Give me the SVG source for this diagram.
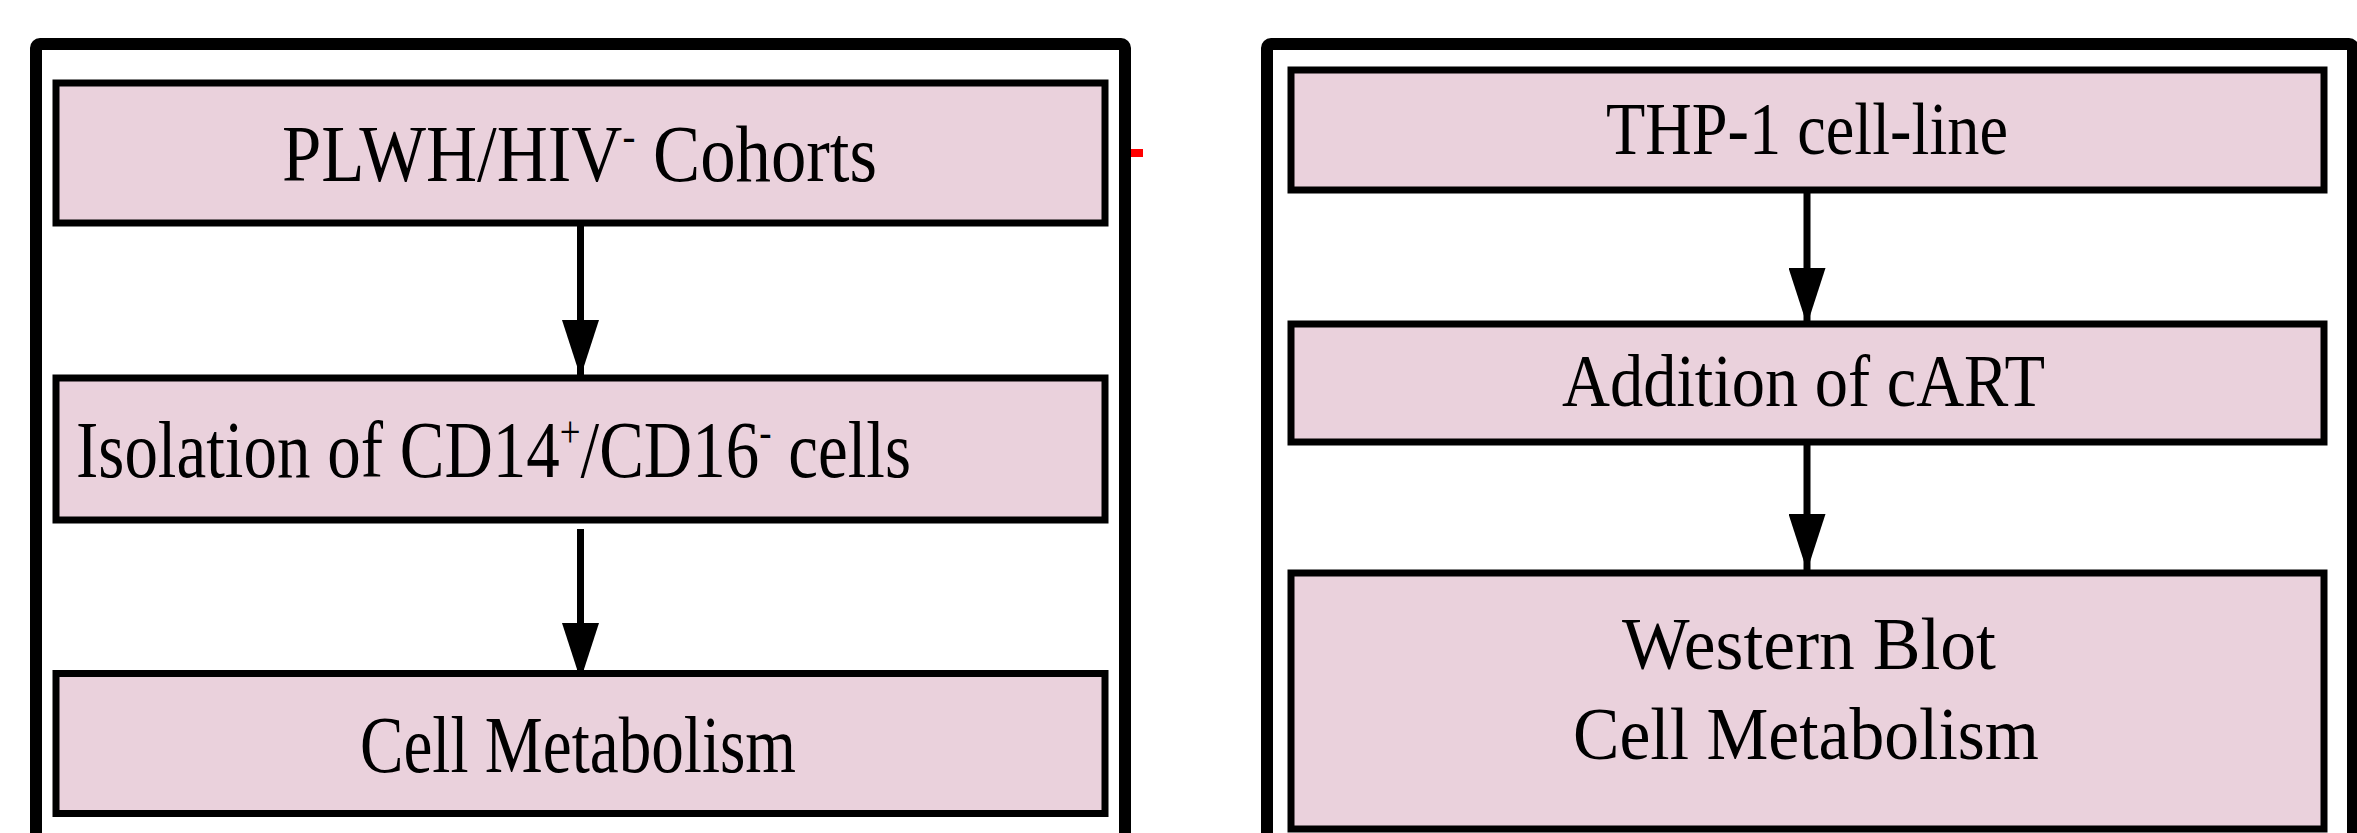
<svg xmlns="http://www.w3.org/2000/svg" width="2357" height="833" viewBox="0 0 2357 833">
<style>
.frame{fill:none;stroke:#000;stroke-width:12}
.box{fill:#EAD1DC;stroke:#000;stroke-width:7}
.lbl{font-family:"Liberation Serif","Times New Roman",serif;fill:#000}
.big{font-size:80px}
.med{font-size:74px}
.conn{stroke:#000;stroke-width:7;fill:none}
</style>
<defs>
<marker id="ah" markerUnits="userSpaceOnUse" viewBox="0 0 57 37" refX="57" refY="18.5" markerWidth="57" markerHeight="37" orient="auto">
<path d="M0,0 L57,18.5 L0,37 Z" fill="#000"/>
</marker>
</defs>
<rect width="2357" height="833" fill="#fff"/>
<g id="frame-left"><rect class="frame" x="36" y="44" width="1089" height="830" rx="4"/></g>
<g id="frame-right"><rect class="frame" x="1267" y="44" width="1086" height="830" rx="4"/></g>
<rect id="red-mark" x="1131" y="149" width="12" height="8" fill="#FF0000"/>
<g id="connectors">
<line class="conn" x1="580.5" y1="226" x2="580.5" y2="377" marker-end="url(#ah)"/>
<line class="conn" x1="580.5" y1="529" x2="580.5" y2="680" marker-end="url(#ah)"/>
<line class="conn" x1="1807" y1="193" x2="1807" y2="325" marker-end="url(#ah)"/>
<line class="conn" x1="1807" y1="445" x2="1807" y2="571" marker-end="url(#ah)"/>
</g>
<g id="n-plwh">
<rect class="box" x="56" y="83" width="1049" height="140"/>
<text class="lbl big" x="282" y="181" textLength="595" lengthAdjust="spacingAndGlyphs">PLWH/HIV<tspan font-size="44" dy="-30">-</tspan><tspan dy="30"> Cohorts</tspan></text>
</g>
<g id="n-isolation">
<rect class="box" x="56" y="378" width="1049" height="142"/>
<text class="lbl big" x="76" y="477" textLength="835" lengthAdjust="spacingAndGlyphs">Isolation of CD14<tspan font-size="44" dy="-30">+</tspan><tspan dy="30">/CD16</tspan><tspan font-size="44" dy="-30">-</tspan><tspan dy="30"> cells</tspan></text>
</g>
<g id="n-cellmeta-left">
<rect class="box" x="56" y="673.5" width="1049" height="140"/>
<text class="lbl big" x="360" y="772" textLength="436" lengthAdjust="spacingAndGlyphs">Cell Metabolism</text>
</g>
<g id="n-thp1">
<rect class="box" x="1291" y="70" width="1033" height="120"/>
<text class="lbl med" x="1606" y="154" textLength="402" lengthAdjust="spacingAndGlyphs">THP-1 cell-line</text>
</g>
<g id="n-cart">
<rect class="box" x="1291" y="324" width="1033" height="118"/>
<text class="lbl med" x="1562" y="406" textLength="483" lengthAdjust="spacingAndGlyphs">Addition of cART</text>
</g>
<g id="n-wb">
<rect class="box" x="1291" y="573" width="1033" height="256"/>
<text class="lbl med" x="1622" y="669" textLength="374" lengthAdjust="spacingAndGlyphs">Western  Blot</text>
<text class="lbl med" x="1573" y="759" textLength="466" lengthAdjust="spacingAndGlyphs">Cell Metabolism</text>
</g>
</svg>
